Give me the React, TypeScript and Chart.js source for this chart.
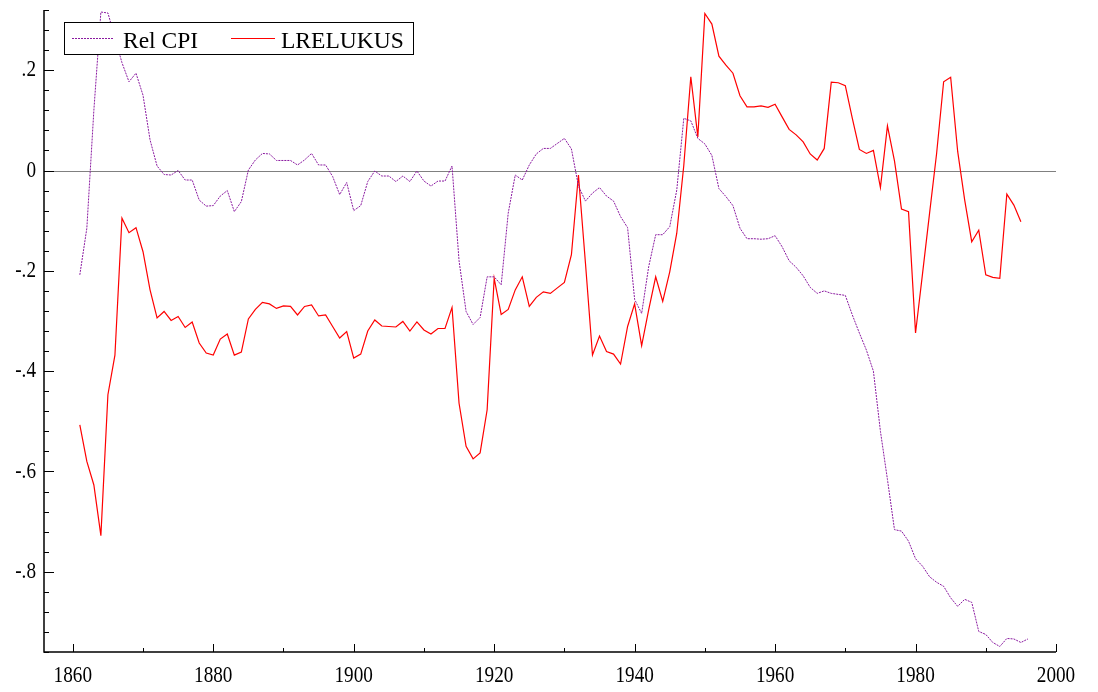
import React, { useEffect, useRef } from "react";
import { Chart, registerables } from "chart.js";

Chart.register(...registerables);

const relCpiStart = 1861;
const relCpi = [
  -0.208, -0.115, 0.12, 0.316, 0.314, 0.265, 0.215, 0.177, 0.194, 0.15,
  0.061, 0.009, -0.008, -0.009, 0.0, -0.019, -0.019, -0.059, -0.071, -0.07,
  -0.051, -0.04, -0.082, -0.062, 0.001, 0.021, 0.034, 0.033, 0.02, 0.02,
  0.02, 0.011, 0.021, 0.034, 0.011, 0.011, -0.012, -0.048, -0.024, -0.08,
  -0.07, -0.022, -0.001, -0.011, -0.011, -0.022, -0.011, -0.022, -0.001, -0.021,
  -0.031, -0.021, -0.021, 0.009, -0.18, -0.281, -0.307, -0.293, -0.212, -0.212,
  -0.228, -0.085, -0.009, -0.019, 0.011, 0.033, 0.044, 0.044, 0.054, 0.064,
  0.043, -0.031, -0.061, -0.045, -0.034, -0.051, -0.061, -0.092, -0.114, -0.257,
  -0.285, -0.192, -0.128, -0.128, -0.112, -0.039, 0.104, 0.099, 0.064, 0.053,
  0.03, -0.036, -0.052, -0.07, -0.115, -0.136, -0.136, -0.137, -0.136, -0.13,
  -0.152, -0.18, -0.193, -0.21, -0.233, -0.245, -0.24, -0.245, -0.247, -0.249,
  -0.288, -0.324, -0.358, -0.4, -0.52, -0.616, -0.716, -0.719, -0.739, -0.774,
  -0.789, -0.81, -0.821, -0.829, -0.852, -0.869, -0.855, -0.861, -0.919, -0.925,
  -0.941, -0.949, -0.933, -0.934, -0.941, -0.934,
];

const lrelukusStart = 1861;
const lrelukus = [
  -0.507, -0.58, -0.627, -0.728, -0.447, -0.368, -0.095, -0.124, -0.114, -0.162,
  -0.238, -0.294, -0.281, -0.299, -0.291, -0.313, -0.302, -0.344, -0.364, -0.368,
  -0.336, -0.326, -0.368, -0.362, -0.296, -0.277, -0.263, -0.266, -0.275, -0.27,
  -0.271, -0.288, -0.271, -0.268, -0.29, -0.288, -0.311, -0.334, -0.321, -0.374,
  -0.366, -0.32, -0.298, -0.31, -0.311, -0.312, -0.301, -0.32, -0.302, -0.318,
  -0.326, -0.315, -0.315, -0.273, -0.464, -0.55, -0.575, -0.563, -0.477, -0.215,
  -0.287, -0.277, -0.238, -0.212, -0.271, -0.253, -0.242, -0.245, -0.234, -0.223,
  -0.168, -0.009, -0.185, -0.368, -0.33, -0.361, -0.366, -0.386, -0.311, -0.266,
  -0.349, -0.278, -0.212, -0.261, -0.202, -0.125, 0.01, 0.187, 0.067, 0.313,
  0.292, 0.228, 0.21, 0.194, 0.149, 0.127, 0.127, 0.129, 0.126, 0.132,
  0.107, 0.082, 0.071, 0.057, 0.033, 0.021, 0.044, 0.176, 0.175, 0.169,
  0.104, 0.042, 0.034, 0.04, -0.034, 0.089, 0.019, -0.077, -0.082, -0.324,
  -0.205, -0.085, 0.034, 0.177, 0.186, 0.038, -0.059, -0.142, -0.119, -0.208,
  -0.213, -0.215, -0.047, -0.069, -0.102,
];

const seriesNames = ["Rel CPI", "LRELUKUS"];
const xTickValues = [1860, 1880, 1900, 1920, 1940, 1960, 1980, 2000];
const xTickLabels = ["1860", "1880", "1900", "1920", "1940", "1960", "1980", "2000"];
const xMinorTicks = [1870, 1890, 1910, 1930, 1950, 1970, 1990];
const yTickValues = [0.2, 0, -0.2, -0.4, -0.6, -0.8];
const yTickLabels = [".2", "0", "-.2", "-.4", "-.6", "-.8"];
const yMinorStep = 0.04;

const X_MIN = 1855.9;
const X_MAX = 2000;
const Y_MIN = -0.96;
const Y_MAX = 0.32;

const PURPLE = "#8a1aa0";
const RED = "#ff0000";
const FONT = "Liberation Serif, Times New Roman, serif";

const toPoints = (start: number, vals: number[]) =>
  vals.map((v, i) => ({ x: start + i, y: v }));

const decorPlugin = {
  id: "decor",
  beforeDatasetsDraw(chart: any) {
    const { ctx, chartArea, scales } = chart;
    const y0 = Math.round(scales.y.getPixelForValue(0)) + 0.5;
    ctx.save();
    ctx.strokeStyle = "#808080";
    ctx.lineWidth = 1;
    ctx.beginPath();
    ctx.moveTo(chartArea.left, y0);
    ctx.lineTo(chartArea.right, y0);
    ctx.stroke();
    ctx.restore();
  },
  afterDraw(chart: any) {
    const { ctx, chartArea, scales } = chart;
    const { left, right, top, bottom } = chartArea;
    const xs = scales.x;
    const ys = scales.y;
    ctx.save();
    // axes
    ctx.strokeStyle = "#000";
    ctx.lineWidth = 1.5;
    ctx.beginPath();
    ctx.moveTo(left, top);
    ctx.lineTo(left, bottom);
    ctx.lineTo(right, bottom);
    ctx.stroke();

    ctx.lineWidth = 1;
    // x ticks
    xTickValues.forEach((v) => {
      const px = Math.round(xs.getPixelForValue(v)) + 0.5;
      ctx.beginPath();
      ctx.moveTo(px, bottom);
      ctx.lineTo(px, bottom - 8);
      ctx.stroke();
    });
    xMinorTicks.forEach((v) => {
      const px = Math.round(xs.getPixelForValue(v)) + 0.5;
      ctx.beginPath();
      ctx.moveTo(px, bottom);
      ctx.lineTo(px, bottom - 4);
      ctx.stroke();
    });
    // y ticks
    const nMinor = Math.round((Y_MAX - Y_MIN) / yMinorStep);
    for (let i = 0; i <= nMinor; i++) {
      const v = Y_MIN + i * yMinorStep;
      const isMajor = yTickValues.some((t) => Math.abs(t - v) < 1e-6);
      const py = Math.round(ys.getPixelForValue(v)) + 0.5;
      ctx.beginPath();
      ctx.moveTo(left, py);
      ctx.lineTo(left + (isMajor ? 10 : 5), py);
      ctx.stroke();
    }

    // x labels (condensed)
    ctx.fillStyle = "#000";
    ctx.font = `24px ${FONT}`;
    ctx.textAlign = "center";
    ctx.textBaseline = "alphabetic";
    xTickValues.forEach((v, i) => {
      const px = xs.getPixelForValue(v);
      ctx.save();
      ctx.translate(px, 682);
      ctx.scale(0.8, 1);
      ctx.fillText(xTickLabels[i], 0, 0);
      ctx.restore();
    });
    // y labels
    ctx.textAlign = "right";
    ctx.textBaseline = "middle";
    yTickValues.forEach((v, i) => {
      const py = ys.getPixelForValue(v);
      ctx.save();
      ctx.translate(left - 8, py);
      ctx.scale(0.8, 1);
      ctx.fillText(yTickLabels[i], 0, 0);
      ctx.restore();
    });

    // legend
    ctx.fillStyle = "#fff";
    ctx.fillRect(64.5, 22.5, 349, 32);
    ctx.strokeStyle = "#000";
    ctx.lineWidth = 1;
    ctx.strokeRect(64.5, 22.5, 349, 32);
    ctx.beginPath();
    ctx.strokeStyle = PURPLE;
    ctx.setLineDash([2, 1]);
    ctx.moveTo(72, 38.5);
    ctx.lineTo(114, 38.5);
    ctx.stroke();
    ctx.setLineDash([]);
    ctx.beginPath();
    ctx.strokeStyle = RED;
    ctx.moveTo(231, 38.5);
    ctx.lineTo(275, 38.5);
    ctx.stroke();
    ctx.fillStyle = "#000";
    ctx.font = `23.5px ${FONT}`;
    ctx.textAlign = "left";
    ctx.textBaseline = "alphabetic";
    ctx.fillText(seriesNames[0], 123, 48);
    ctx.fillText(seriesNames[1], 281, 48);
    ctx.restore();
  },
};

export default function App() {
  const ref = useRef<HTMLCanvasElement>(null);
  useEffect(() => {
    if (!ref.current) return;
    const chart = new Chart(ref.current, {
      type: "line",
      data: {
        datasets: [
          {
            label: seriesNames[0],
            data: toPoints(relCpiStart, relCpi),
            borderColor: PURPLE,
            borderWidth: 1,
            borderDash: [2, 1],
            pointRadius: 0,
            tension: 0,
            fill: false,
          },
          {
            label: seriesNames[1],
            data: toPoints(lrelukusStart, lrelukus),
            borderColor: RED,
            borderWidth: 1.2,
            pointRadius: 0,
            tension: 0,
            fill: false,
          },
        ],
      },
      options: {
        responsive: false,
        animation: false,
        layout: { padding: { left: 44, right: 42, top: 10, bottom: 40 } },
        plugins: { legend: { display: false }, tooltip: { enabled: false } },
        scales: {
          x: { type: "linear", min: X_MIN, max: X_MAX, display: false },
          y: { type: "linear", min: Y_MIN, max: Y_MAX, display: false },
        },
      },
      plugins: [decorPlugin],
    });
    return () => chart.destroy();
  }, []);
  return (
    <div style={{ position: "fixed", left: 0, top: 0, width: 1098, height: 692, background: "#fff" }}>
      <canvas ref={ref} width={1098} height={692} style={{ display: "block" }} />
    </div>
  );
}
